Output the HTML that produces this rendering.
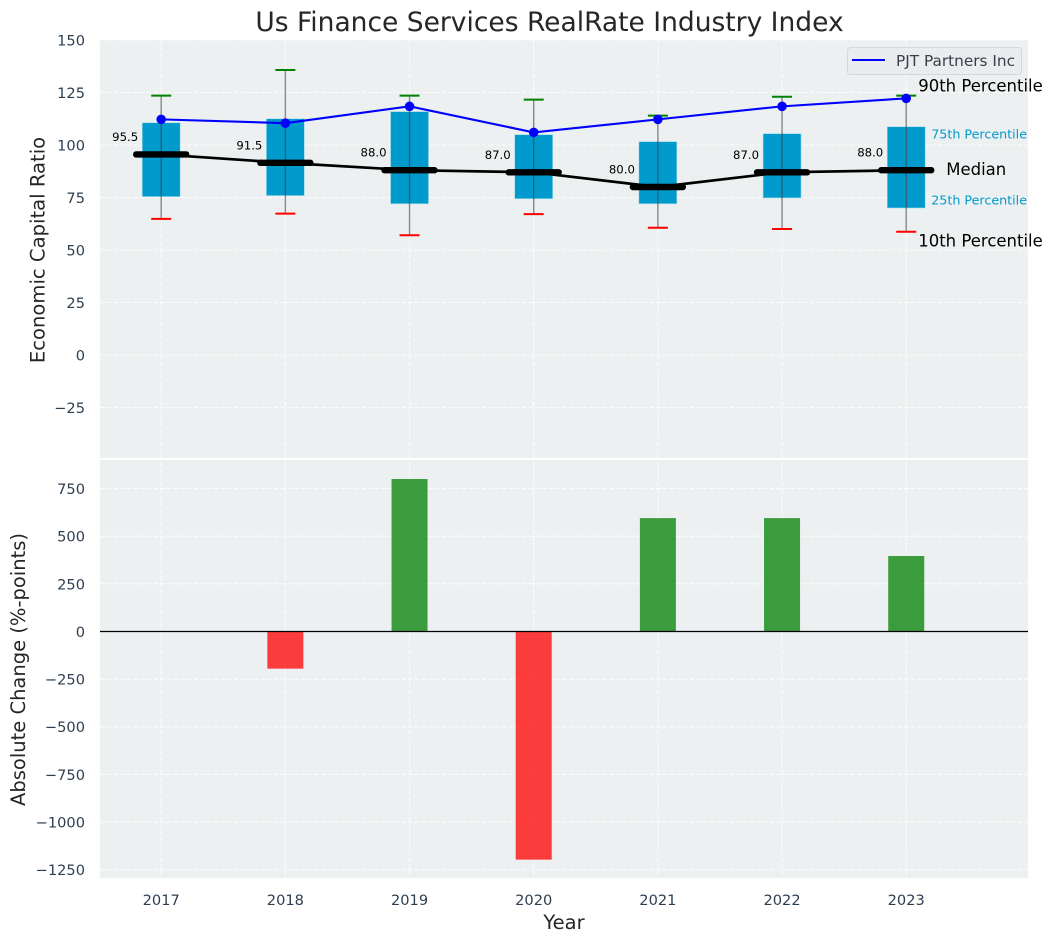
<!DOCTYPE html>
<html>
<head>
<meta charset="utf-8">
<title>Us Finance Services RealRate Industry Index</title>
<style>
html,body{margin:0;padding:0;background:#fff;}
svg{display:block;font-family:"DejaVu Sans","Liberation Sans",sans-serif;}
</style>
</head>
<body>
<svg id="chart" xmlns="http://www.w3.org/2000/svg" width="1053" height="942" viewBox="0 0 1053 942">
<rect x="0" y="0" width="1053" height="942" fill="#ffffff"/>
<rect x="100" y="40" width="928" height="419" fill="#ecf0f1"/>
<rect x="100" y="459" width="928" height="419" fill="#ecf0f1"/>
<g id="grid"></g>
<line x1="100" x2="1028" y1="459" y2="459" stroke="#ffffff" stroke-width="2"/>
<g id="bars"></g>
<line id="zero" x1="100" x2="1028" stroke="#000000" stroke-width="1.3"/>
<g id="boxes"></g>
<g id="lines"></g>
<g id="labels"></g>
<text x="549.5" y="31" text-anchor="middle" font-size="26.5" fill="#262626">Us Finance Services RealRate Industry Index</text>
<text transform="translate(44.5 250) rotate(-90)" text-anchor="middle" font-size="19.6" fill="#262626">Economic Capital Ratio</text>
<text transform="translate(25 669.5) rotate(-90)" text-anchor="middle" font-size="19.5" fill="#262626">Absolute Change (%-points)</text>
<text x="564" y="929" text-anchor="middle" font-size="19.5" fill="#262626">Year</text>
<g>
<rect x="847.5" y="47.5" width="174" height="27" rx="3" fill="#eaecf0" stroke="#d5d8da" stroke-width="1"/>
<line x1="852" x2="885" y1="60" y2="60" stroke="#0000ff" stroke-width="2"/>
<text x="896" y="66" font-size="15.3" fill="#3a3f45">PJT Partners Inc</text>
</g>
<g id="annotations"></g>
</svg>
<script>
var years = [2017, 2018, 2019, 2020, 2021, 2022, 2023];
var p90 = [123.5, 135.7, 123.5, 121.6, 114, 123, 123.5];
var p75 = [110.6, 112.5, 115.9, 104.9, 101.6, 105.4, 108.7];
var medians = [95.5, 91.5, 88.0, 87.0, 80.0, 87.0, 88.0];
var p25 = [75.4, 75.9, 72, 74.4, 72, 74.8, 70];
var p10 = [64.8, 67.3, 57, 67.1, 60.6, 60, 58.7];
var company = [112.2, 110.4, 118.4, 106, 112.2, 118.4, 122.2];
var changes = [0, -195, 800, -1197, 595, 595, 396];
var upperTicks = [150, 125, 100, 75, 50, 25, 0, -25];
var lowerTicks = [750, 500, 250, 0, -250, -500, -750, -1000, -1250];

var NS = 'http://www.w3.org/2000/svg';
function mk(parent, tag, attrs, text) {
  var el = document.createElementNS(NS, tag);
  for (var k in attrs) { el.setAttribute(k, attrs[k]); }
  if (text !== undefined) { el.textContent = text; }
  document.getElementById(parent).appendChild(el);
  return el;
}
function xS(year) { return 161.2 + (year - 2017) * 124.17; }
function yT(v) { return 355 - v * 2.1; }
function yB(v) { return 631.5 - v * 0.1906; }
function fmt(v) { return String(v).replace('-', '\u2212'); }

var el, i;
document.getElementById('zero').setAttribute('y1', yB(0));
document.getElementById('zero').setAttribute('y2', yB(0));

/* grid */
upperTicks.forEach(function (t) {
  el = mk('grid', 'line', {x1: 100, x2: 1028, y1: yT(t), y2: yT(t), stroke: '#ffffff', 'stroke-width': 1.1, 'stroke-dasharray': '4.5 2.2', opacity: 0.8});
  
  
  el = mk('labels', 'text', {x: 85, y: yT(t) + 5.4, 'text-anchor': 'end', 'font-size': 14.6, fill: '#2c3e50'}, fmt(t));
  
  
});
lowerTicks.forEach(function (t) {
  el = mk('grid', 'line', {x1: 100, x2: 1028, y1: yB(t), y2: yB(t), stroke: '#ffffff', 'stroke-width': 1.1, 'stroke-dasharray': '4.5 2.2', opacity: 0.8});
  
  
  el = mk('labels', 'text', {x: 85, y: yB(t) + 5.4, 'text-anchor': 'end', 'font-size': 14.6, fill: '#2c3e50'}, fmt(t));
  
  
});
years.forEach(function (y) {
  el = mk('grid', 'line', {x1: xS(y), x2: xS(y), y1: 40, y2: 878, stroke: '#ffffff', 'stroke-width': 1.1, 'stroke-dasharray': '4.5 2.2', opacity: 0.8});
  
  
  el = mk('labels', 'text', {x: xS(y), y: 904.8, 'text-anchor': 'middle', 'font-size': 14.6, fill: '#2c3e50'}, y);
  
  
});

/* lower bars */
for (i = 0; i < years.length; i++) {
  var v = changes[i];
  el = mk('bars', 'rect', {
    x: xS(years[i]) - 18,
    y: Math.min(yB(v), yB(0)),
    width: 36,
    height: Math.abs(yB(v) - yB(0)),
    fill: v >= 0 ? '#008000' : '#ff0000',
    opacity: 0.75
  });
  
  
}

/* upper boxes, whiskers, caps */
for (i = 0; i < years.length; i++) {
  var cx = xS(years[i]);
  el = mk('boxes', 'rect', {x: cx - 19, y: yT(p75[i]), width: 38, height: yT(p25[i]) - yT(p75[i]), fill: '#009acd', stroke: '#a9dcea', 'stroke-width': 0.6});
  
  
  el = mk('boxes', 'line', {x1: cx, x2: cx, y1: yT(p90[i]), y2: yT(p10[i]), stroke: '#404040', 'stroke-width': 1.4, opacity: 0.6});
  
  
  el = mk('boxes', 'line', {x1: cx - 10, x2: cx + 10, y1: yT(p90[i]), y2: yT(p90[i]), stroke: '#008000', 'stroke-width': 2});
  
  
  el = mk('boxes', 'line', {x1: cx - 10, x2: cx + 10, y1: yT(p10[i]), y2: yT(p10[i]), stroke: '#ff0000', 'stroke-width': 2});
  
  
}

/* median line */
var medPts = years.map(function (y, j) { return xS(y) + ',' + yT(medians[j]); }).join(' ');
el = mk('lines', 'polyline', {points: medPts, fill: 'none', stroke: '#000000', 'stroke-width': 2.7});


for (i = 0; i < years.length; i++) {
  el = mk('lines', 'line', {x1: xS(years[i]) - 25, x2: xS(years[i]) + 25, y1: yT(medians[i]), y2: yT(medians[i]), stroke: '#000000', 'stroke-width': 6.4, 'stroke-linecap': 'round'});
  
  
  el = mk('lines', 'text', {x: xS(years[i]) - 36, y: yT(medians[i]) - 13.5, 'text-anchor': 'middle', 'font-size': 11.7, fill: '#000000'}, medians[i].toFixed(1));
  
  
}

/* company line */
var coPts = years.map(function (y, j) { return xS(y) + ',' + yT(company[j]); }).join(' ');
el = mk('lines', 'polyline', {points: coPts, fill: 'none', stroke: '#0000ff', 'stroke-width': 2.1});


for (i = 0; i < years.length; i++) {
  el = mk('lines', 'circle', {cx: xS(years[i]), cy: yT(company[i]), r: 4.8, fill: '#0000ff'});
  
  
}

/* annotations tied to the last year */
var last = years.length - 1;
var lx = xS(years[last]);
el = mk('annotations', 'text', {x: lx + 12, y: yT(p90[last]) - 4, 'font-size': 16.5, fill: '#000000'}, '90th Percentile');


el = mk('annotations', 'text', {x: lx + 25, y: yT(p75[last]) + 12, 'font-size': 12.7, fill: '#009acd'}, '75th Percentile');


el = mk('annotations', 'text', {x: lx + 40, y: yT(medians[last]) + 5, 'font-size': 16.5, fill: '#000000'}, 'Median');


el = mk('annotations', 'text', {x: lx + 25, y: yT(p25[last]) - 3.5, 'font-size': 12.7, fill: '#009acd'}, '25th Percentile');


el = mk('annotations', 'text', {x: lx + 12, y: yT(p10[last]) + 15, 'font-size': 16.5, fill: '#000000'}, '10th Percentile');


</script>
</body>
</html>
